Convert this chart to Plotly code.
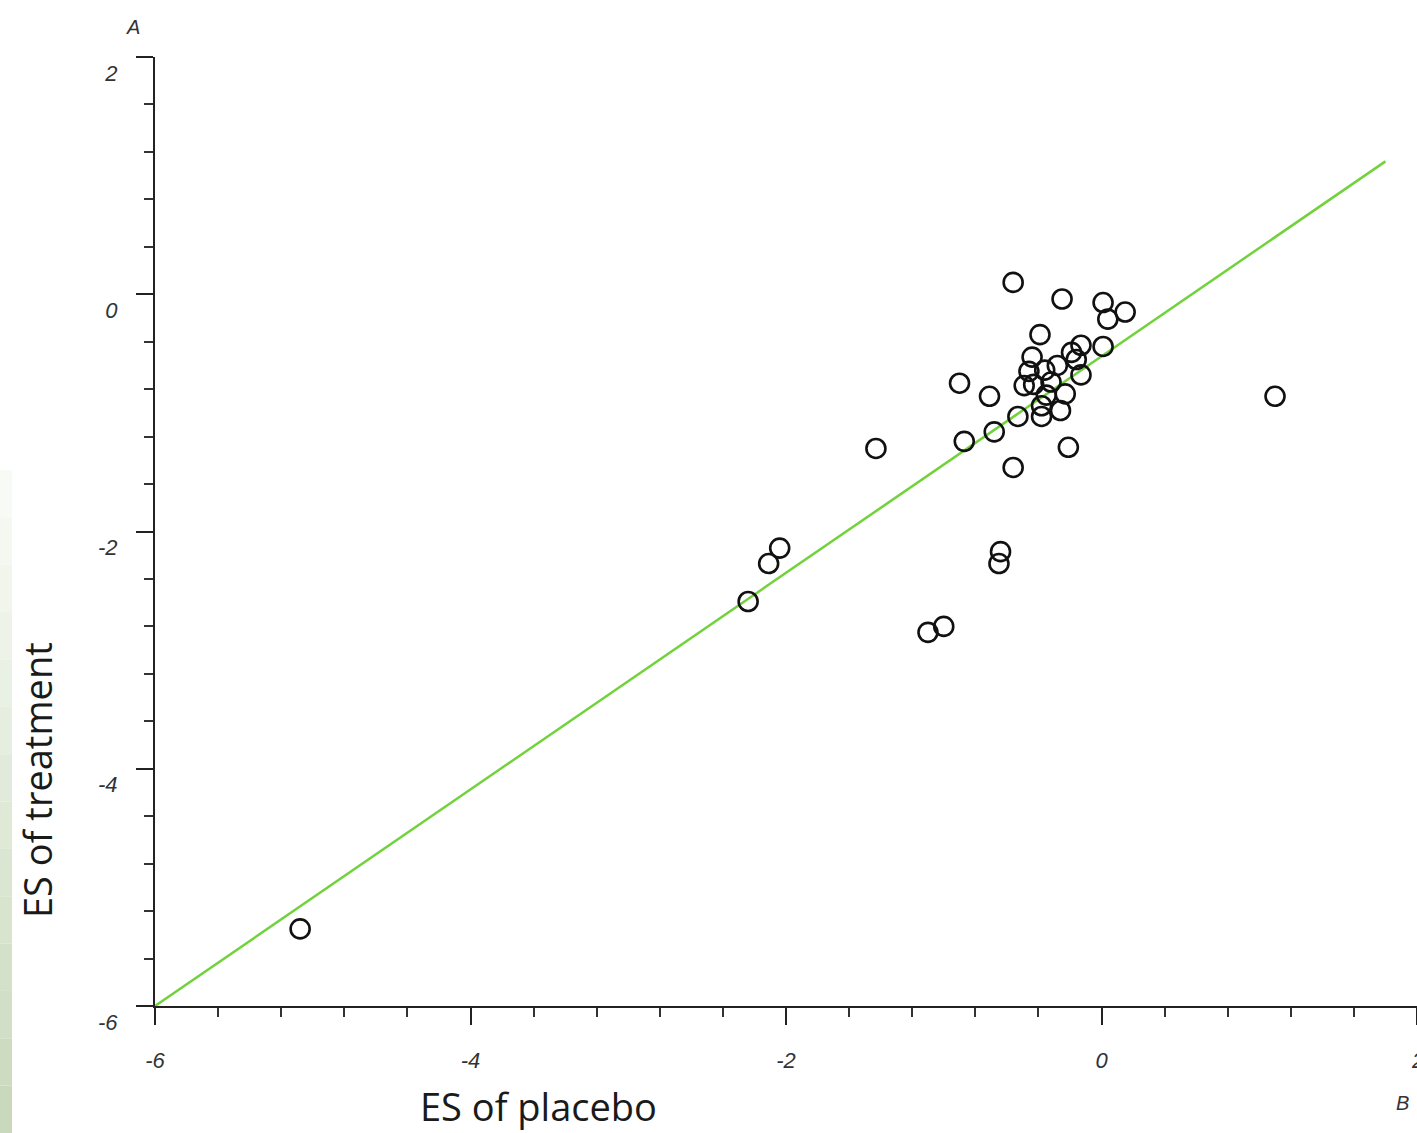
import plotly.graph_objects as go

# Data
placebo_es = [-0.56, -0.25, 0.01, 0.15, 0.04, -0.39, -0.13, 0.01, -0.19, -0.44,
              -0.28, -0.46, -0.36, -0.13, -0.49, -0.43, -0.32, -0.23, -0.90, -0.71,
              -0.35, -0.38, -0.26, -0.53, -0.38, -0.68, -0.87, -0.21, -1.43, -0.56,
              -2.04, -2.11, -0.64, -0.65, -2.24, -1.00, -1.10, -5.08, 1.10, -0.16]
treatment_es = [0.10, -0.04, -0.07, -0.15, -0.21, -0.34, -0.43, -0.44, -0.49, -0.53,
                -0.60, -0.65, -0.64, -0.68, -0.77, -0.76, -0.74, -0.84, -0.75, -0.86,
                -0.85, -0.94, -0.98, -1.03, -1.03, -1.16, -1.24, -1.29, -1.30, -1.46,
                -2.14, -2.27, -2.17, -2.27, -2.59, -2.80, -2.85, -5.35, -0.86, -0.55]

fit_x = [-6.0, 1.8]
fit_y = [-6.0, 1.12]

x_ticks = [-6, -4, -2, 0]
x_edge_tick = 2
y_ticks = [-6, -4, -2, 0, 2]

W, H = 1417, 1133
L, R, T, B = 155, 0, 57, 127
pw, ph = W - L - R, H - T - B

def px(xp):
    return (xp - L) / pw

def py(yp):
    return (H - B - yp) / ph

fig = go.Figure()
fig.add_trace(go.Scatter(x=fit_x, y=fit_y, mode="lines",
                         line=dict(color="#72d23c", width=2.5),
                         hoverinfo="skip", showlegend=False))
fig.add_trace(go.Scatter(x=placebo_es, y=treatment_es, mode="markers",
                         marker=dict(symbol="circle-open", size=19,
                                     color="#111111", line=dict(width=2.6, color="#111111")),
                         showlegend=False, cliponaxis=False))

tickfont = dict(family="Liberation Sans, Arial, sans-serif", size=22, color="#333333")
axis_common = dict(showline=True, linecolor="#222222", linewidth=2.2,
                   ticks="outside", ticklen=17, tickwidth=2.4, tickcolor="#222222",
                   showgrid=False, zeroline=False, tickfont=tickfont,
                   minor=dict(dtick=0.4, ticks="outside", ticklen=9, tickwidth=2.2,
                              tickcolor="#333333", showgrid=False))

fig.update_xaxes(range=[-6, 2], tickvals=x_ticks + [x_edge_tick],
                 ticktext=[f"<i>{v}</i>" for v in x_ticks] + [""],
                 ticklabelstandoff=16, **axis_common)
fig.update_yaxes(range=[-6, 2], tickvals=y_ticks, ticktext=[f"<i>{v}</i>" for v in y_ticks],
                 ticklabelstandoff=14, ticklabelshift=16, **axis_common)

# tick label at the right edge (partly cut off, as in the original)
fig.add_annotation(text=f"<i>{x_edge_tick}</i>", xref="x", yref="paper",
                   x=x_edge_tick, y=py(1060), showarrow=False, font=tickfont,
                   xanchor="center", yanchor="middle")

# light green gradient strip at the left edge (slide background)
n = 14
y_top, y_bot = 470, H
for i in range(n):
    y0 = y_top + (y_bot - y_top) * i / n
    y1 = y_top + (y_bot - y_top) * (i + 1) / n
    t = (i + 0.5) / n
    r = int(250 - t * 50)
    g = int(252 - t * 35)
    b = int(248 - t * 62)
    fig.add_shape(type="rect", xref="paper", yref="paper",
                  x0=px(0), x1=px(12), y0=py(y1), y1=py(y0),
                  line=dict(width=0), fillcolor=f"rgb({r},{g},{b})", layer="below")

title_font = dict(family="Open Sans, sans-serif", size=38, color="#1a1a1a")
fig.add_annotation(text="ES of treatment", xref="paper", yref="paper",
                   x=px(37), y=py(780), textangle=-90, showarrow=False, font=title_font,
                   xanchor="center", yanchor="middle")
fig.add_annotation(text="ES of placebo", xref="paper", yref="paper",
                   x=px(538), y=py(1106), showarrow=False, font=title_font,
                   xanchor="center", yanchor="middle")
small_font = dict(family="Liberation Sans, Arial, sans-serif", size=20, color="#333333")
fig.add_annotation(text="<i>A</i>", xref="paper", yref="paper",
                   x=px(133), y=py(27), showarrow=False, font=small_font,
                   xanchor="center", yanchor="middle")
fig.add_annotation(text="<i>B</i>", xref="paper", yref="paper",
                   x=px(1402), y=py(1103), showarrow=False, font=small_font,
                   xanchor="center", yanchor="middle")

fig.update_layout(width=W, height=H, margin=dict(l=L, r=R, t=T, b=B, autoexpand=False),
                  plot_bgcolor="white", paper_bgcolor="white")

fig.write_html("out.html", config={"displayModeBar": False},
               post_script="document.body.style.margin='0px';document.body.style.overflow='hidden';")
